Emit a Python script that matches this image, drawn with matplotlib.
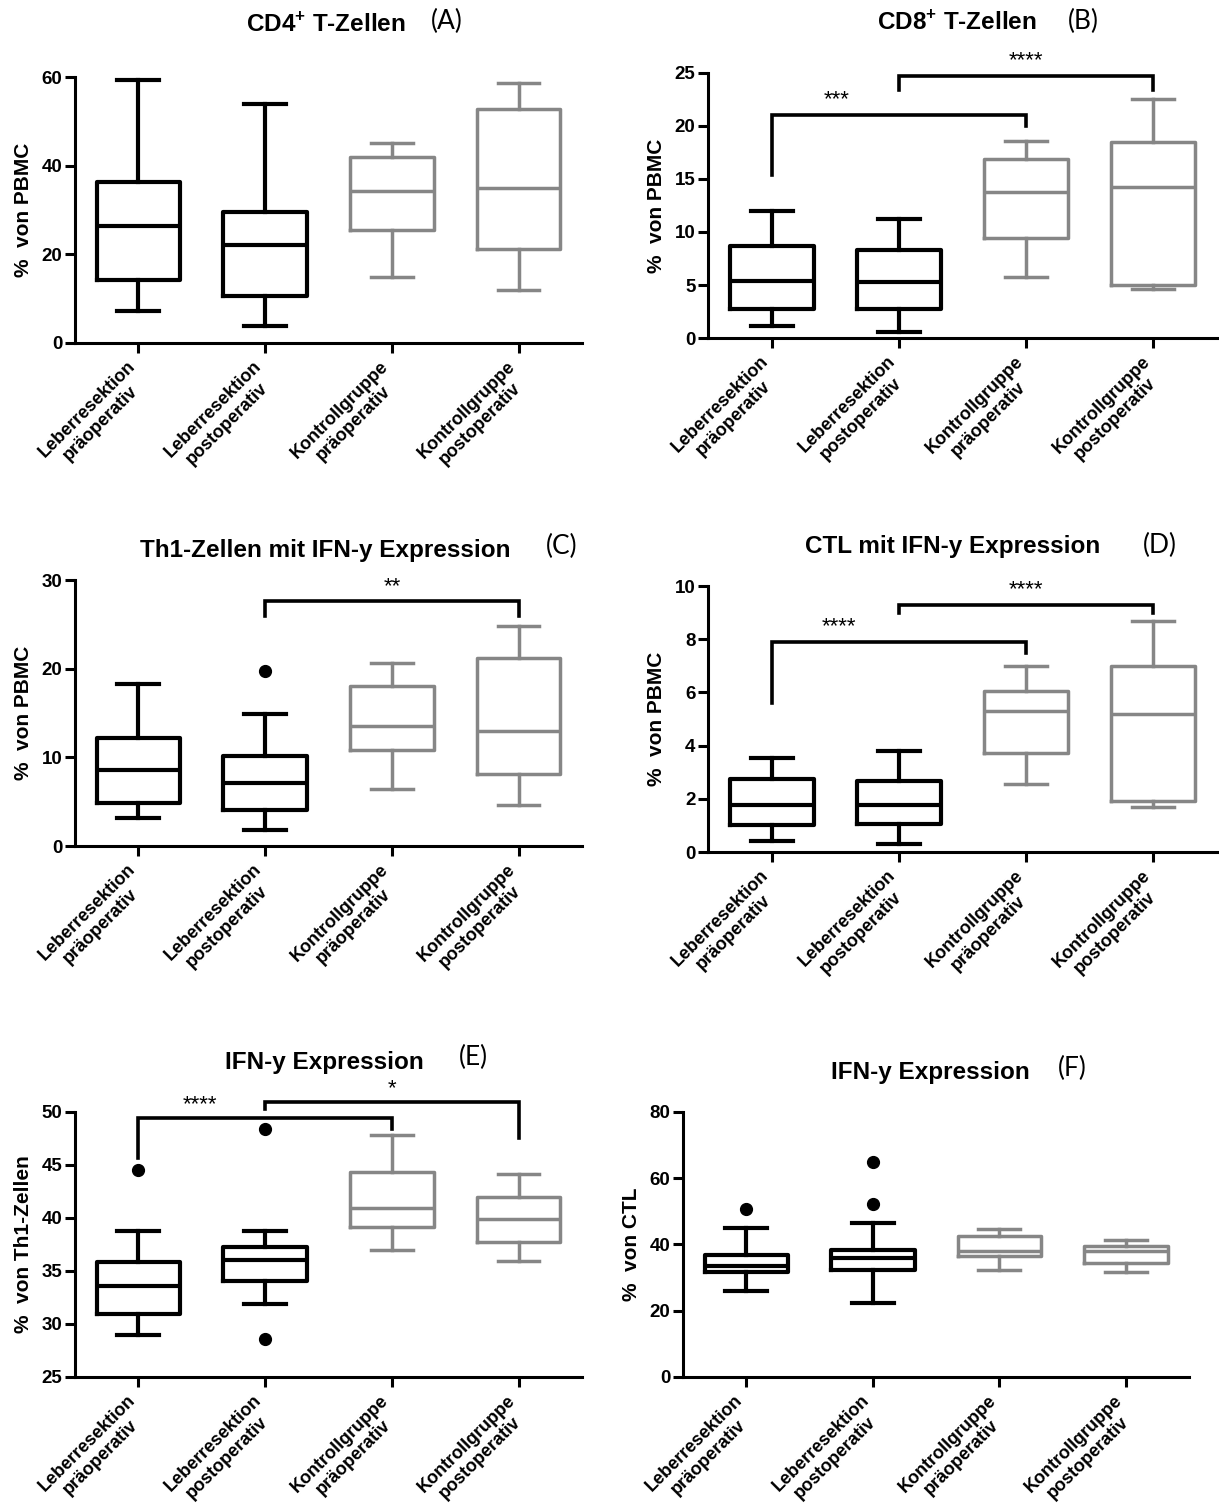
import matplotlib
matplotlib.use("Agg")
import matplotlib.pyplot as plt
from matplotlib.transforms import ScaledTranslation, blended_transform_factory

plt.rcParams['font.family'] = ['Liberation Sans', 'DejaVu Sans']
plt.rcParams['font.weight'] = 'bold'
plt.rcParams['axes.labelweight'] = 'bold'
plt.rcParams['mathtext.fontset'] = 'custom'
plt.rcParams['mathtext.rm'] = 'Liberation Sans:bold'
plt.rcParams['mathtext.bf'] = 'Liberation Sans:bold'

# ---------------- data ----------------
categories = ["Leberresektion\npräoperativ", "Leberresektion\npostoperativ",
              "Kontrollgruppe\npräoperativ", "Kontrollgruppe\npostoperativ"]
box_colors = ["black", "black", "#868686", "#868686"]

# (A) CD4+ T-Zellen  [whislo, q1, med, q3, whishi]
a_stats = [[7.2, 14.3, 26.5, 36.3, 59.3],
           [3.8, 10.7, 22.0, 29.5, 54.0],
           [15.0, 25.6, 34.2, 42.0, 45.2],
           [12.0, 21.2, 35.0, 52.8, 58.7]]
a_fliers = [[], [], [], []]

# (B) CD8+ T-Zellen
b_stats = [[1.1, 2.7, 5.4, 8.65, 11.95],
           [0.55, 2.7, 5.25, 8.3, 11.2],
           [5.8, 9.4, 13.8, 16.9, 18.6],
           [4.6, 5.0, 14.2, 18.5, 22.5]]
b_fliers = [[], [], [], []]

# (C) Th1-Zellen mit IFN-y Expression
c_stats = [[3.2, 4.8, 8.6, 12.2, 18.3],
           [1.8, 4.1, 7.1, 10.1, 14.9],
           [6.4, 10.8, 13.5, 18.0, 20.7],
           [4.6, 8.1, 13.0, 21.2, 24.8]]
c_fliers = [[], [19.7], [], []]

# (D) CTL mit IFN-y Expression
d_stats = [[0.41, 1.0, 1.76, 2.76, 3.55],
           [0.31, 1.04, 1.78, 2.66, 3.79],
           [2.55, 3.74, 5.31, 6.06, 7.0],
           [1.69, 1.91, 5.21, 6.99, 8.68]]
d_fliers = [[], [], [], []]

# (E) IFN-y Expression (% von Th1-Zellen)
e_stats = [[29.0, 30.97, 33.6, 35.85, 38.8],
           [31.9, 34.05, 36.07, 37.26, 38.8],
           [36.95, 39.1, 40.97, 44.3, 47.86],
           [35.9, 37.7, 39.87, 42.0, 44.1]]
e_fliers = [[44.56], [48.4, 28.55], [], []]

# (F) IFN-y Expression (% von CTL)
f_stats = [[26.1, 31.6, 33.6, 36.8, 45.0],
           [22.2, 32.2, 35.9, 38.2, 46.4],
           [32.4, 36.6, 37.9, 42.7, 44.7],
           [31.6, 34.4, 37.9, 39.4, 41.2]]
f_fliers = [[50.6], [65.0, 52.1], [], []]

# significance brackets: (left box, right box, bar y, left leg end, right leg end, text x, text y, label)
b_sig = [(1, 3, 21.0, 15.4, 20.0, 1.51, 21.5, "***"),
         (2, 4, 24.7, 23.4, 23.4, 3.0, 25.2, "****")]
c_sig = [(2, 4, 27.6, 25.9, 25.9, 3.0, 28.1, "**")]
d_sig = [(1, 3, 7.88, 5.6, 7.47, 1.53, 8.08, "****"),
         (2, 4, 9.28, 9.0, 9.0, 3.0, 9.48, "****")]
e_sig = [(1, 3, 49.4, 45.66, 48.4, 1.49, 49.7, "****"),
         (2, 4, 50.9, 50.3, 47.5, 3.0, 51.2, "*")]

panels = [
    dict(stats=a_stats, fliers=a_fliers, sig=[], ylim=(0, 60), yticks=[0, 20, 40, 60],
         ylabel="%  von PBMC", rect=(0.0615, 0.7730, 0.4159, 0.1760),
         title=r"CD4$^{+}$ T-Zellen", letter="(A)", tpos=(246, 25), lpos=(431, 21)),
    dict(stats=b_stats, fliers=b_fliers, sig=b_sig, ylim=(0, 25), yticks=[0, 5, 10, 15, 20, 25],
         ylabel="%  von PBMC", rect=(0.5808, 0.7763, 0.4176, 0.1754),
         title=r"CD8$^{+}$ T-Zellen", letter="(B)", tpos=(877, 23), lpos=(1068, 21)),
    dict(stats=c_stats, fliers=c_fliers, sig=c_sig, ylim=(0, 30), yticks=[0, 10, 20, 30],
         ylabel="%  von PBMC", rect=(0.0615, 0.4401, 0.4159, 0.1760),
         title="Th1-Zellen mit IFN-y Expression", letter="(C)", tpos=(140, 551), lpos=(546, 546)),
    dict(stats=d_stats, fliers=d_fliers, sig=d_sig, ylim=(0, 10), yticks=[0, 2, 4, 6, 8, 10],
         ylabel="%  von PBMC", rect=(0.5808, 0.4361, 0.4176, 0.1760),
         title="CTL mit IFN-y Expression", letter="(D)", tpos=(805, 546), lpos=(1143, 545)),
    dict(stats=e_stats, fliers=e_fliers, sig=e_sig, ylim=(25, 50), yticks=[25, 30, 35, 40, 45, 50],
         ylabel="%  von Th1-Zellen", rect=(0.0615, 0.0887, 0.4159, 0.1754),
         title="IFN-y Expression", letter="(E)", tpos=(225, 1062), lpos=(459, 1057)),
    dict(stats=f_stats, fliers=f_fliers, sig=[], ylim=(0, 80), yticks=[0, 20, 40, 60, 80],
         ylabel="%  von CTL", rect=(0.5603, 0.0887, 0.4151, 0.1754),
         title="IFN-y Expression", letter="(F)", tpos=(831, 1072), lpos=(1058, 1068)),
]

W, H = 1219, 1511
fig = plt.figure(figsize=(W / 100, H / 100), dpi=100)
label_offset = ScaledTranslation(-12 / 100, -15 / 100, fig.dpi_scale_trans)

for p in panels:
    ax = fig.add_axes(p["rect"])
    positions = [1, 2, 3, 4]
    for i, (st, fl, col) in enumerate(zip(p["stats"], p["fliers"], box_colors)):
        d = dict(whislo=st[0], q1=st[1], med=st[2], q3=st[3], whishi=st[4], fliers=fl)
        lw = 3.0 if col == "black" else 2.5
        ax.bxp([d], positions=[positions[i]], widths=0.66, capwidths=[0.33],
               showfliers=True, patch_artist=False,
               boxprops=dict(color=col, linewidth=lw),
               whiskerprops=dict(color=col, linewidth=lw),
               capprops=dict(color=col, linewidth=lw),
               medianprops=dict(color=col, linewidth=lw),
               flierprops=dict(marker='o', markerfacecolor='black', markeredgecolor='black',
                               markersize=8.5))
    for (i, j, yb, yl, yr, tx, ty, lab) in p["sig"]:
        ax.plot([i, i, j, j], [yl, yb, yb, yr], color='black', lw=2.6, clip_on=False,
                solid_joinstyle='miter')
        ax.text(tx, ty, lab, ha='center', va='bottom', fontsize=16, fontweight='normal')
    ax.set_xlim(0.5, 4.5)
    ax.set_ylim(*p["ylim"])
    ax.set_yticks(p["yticks"])
    ax.set_xticks(positions)
    ax.set_xticklabels([""] * len(positions))
    trans = blended_transform_factory(ax.transData, ax.transAxes) + label_offset
    for pos, cat in zip(positions, categories):
        ax.text(pos, 0, cat, transform=trans, rotation=45, rotation_mode='anchor',
                ha='right', va='top', multialignment='center', fontsize=13,
                linespacing=1.2, fontweight='bold', clip_on=False)
    for lbl in ax.get_yticklabels():
        lbl.set_fontsize(13.5)
    ax.set_ylabel(p["ylabel"], fontsize=15, fontweight='bold', labelpad=6)
    for s in ["top", "right"]:
        ax.spines[s].set_visible(False)
    for s in ["left", "bottom"]:
        ax.spines[s].set_linewidth(2.2)
    ax.tick_params(axis='both', direction='out', length=7, width=2.2, pad=2)
    fig.text(p["tpos"][0] / W, 1 - p["tpos"][1] / H, p["title"], ha='left', va='center',
             fontsize=17.5, fontweight='bold')
    fig.text(p["lpos"][0] / W, 1 - p["lpos"][1] / H, p["letter"], ha='left', va='center',
             fontsize=19, fontweight='normal', family=['Lato', 'DejaVu Sans'])

fig.savefig("out.png", dpi=100)
